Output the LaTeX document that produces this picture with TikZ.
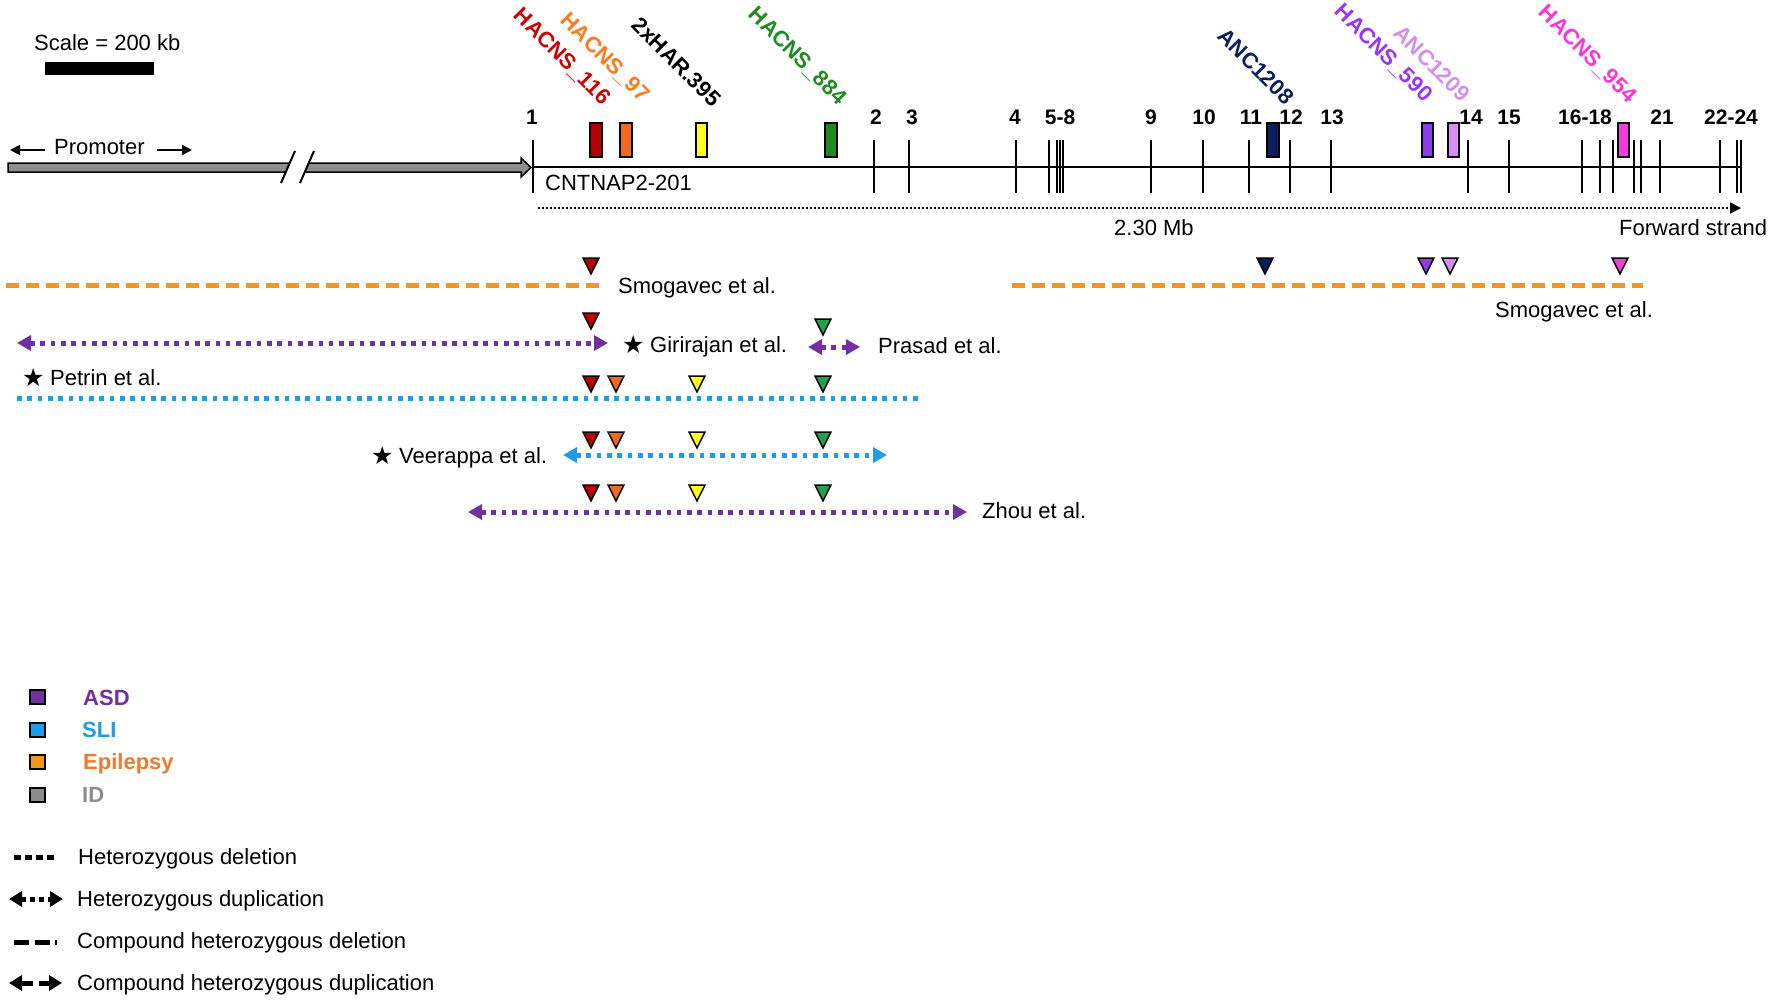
\documentclass[tikz,border=0pt]{standalone}
\usepackage{fontspec}
\setmainfont{Liberation Sans}
\newfontfamily\symfont{DejaVu Sans}
\usetikzlibrary{arrows.meta}

\definecolor{cRedT}{HTML}{D00000}
\definecolor{cRedB}{HTML}{B80000}
\definecolor{cOraT}{HTML}{FF7A1A}
\definecolor{cOraB}{HTML}{F26B1D}
\definecolor{cYel}{HTML}{FFFF1A}
\definecolor{cGrnT}{HTML}{1E8C1E}
\definecolor{cGrnB}{HTML}{1F8A1F}
\definecolor{cGrnTri}{HTML}{22A04A}
\definecolor{cNavy}{HTML}{0B1F5C}
\definecolor{cPurT}{HTML}{9933FF}
\definecolor{cPurB}{HTML}{8B3DE8}
\definecolor{cLavT}{HTML}{D58CF0}
\definecolor{cLavB}{HTML}{D98DF2}
\definecolor{cMagT}{HTML}{FF33DD}
\definecolor{cMagB}{HTML}{F23CDC}
\definecolor{cLineOra}{HTML}{F7941D}
\definecolor{cLinePur}{HTML}{7030A0}
\definecolor{cLineBlu}{HTML}{1E9BE9}
\definecolor{cASD}{HTML}{7030A0}
\definecolor{cSLI}{HTML}{1E9BE9}
\definecolor{cEpi}{HTML}{F07A2C}
\definecolor{cID}{HTML}{8C8C8C}
\definecolor{cBar}{HTML}{8D8D8D}

\newcommand{\tridown}[3]{\filldraw[fill=#3, draw=black, line width=1.5pt, line join=miter] ({#1-8},{#2}) -- ({#1+8},{#2}) -- ({#1},{#2+16}) -- cycle;}
\newcommand{\stargl}{\makebox[28pt][l]{\raisebox{-1pt}{\symfont\fontsize{25}{25}\selectfont ★}}}

\begin{document}
\begin{tikzpicture}[x=1pt,y=-1pt,
  txt/.style={font=\fontsize{22}{26}\selectfont, inner sep=0pt, anchor=base west},
  exn/.style={font=\bfseries\fontsize{21}{24}\selectfont, inner sep=0pt, anchor=base},
  lab/.style={font=\bfseries\fontsize{22}{26}\selectfont, inner sep=0pt, anchor=base east, rotate=-45},
  legtxt/.style={font=\bfseries\fontsize{22}{26}\selectfont, inner sep=0pt, anchor=base west},
  exline/.style={line width=2pt},
  hbox/.style={draw=black, line width=1.5pt},
  cdel/.style={line width=5pt, dash pattern=on 13pt off 7pt},
  hdel/.style={line width=5pt, dash pattern=on 4.6pt off 5.7pt},
  dup/.style={{Triangle[length=14pt,width=15pt]}-{Triangle[length=14pt,width=15pt]}},
]
\useasboundingbox (0,0) rectangle (1772,1002);
\fill[white] (0,0) rectangle (1772,1002);

% scale
\node[txt] (scale) at (34,50) {Scale = 200 kb};
\fill (45,62) rectangle (154,75);

% promoter bar
\filldraw[fill=cBar, draw=black, line width=1.5pt, line join=miter] (8,163) -- (521,163) -- (521,158) -- (531,167.5) -- (521,177) -- (521,172) -- (8,172) -- cycle;
\fill[white] (291.9,157) -- (310.9,157) -- (302.6,178) -- (283.6,178) -- cycle;
\draw[line width=2pt] (281,183) -- (295,151);
\draw[line width=2pt] (300,183) -- (314,151);
\node[txt] (prom) at (54,154) {Promoter};
\coordinate (pl1) at (45,150);
\coordinate (pl2) at (10,150);
\coordinate (pr1) at (157,150);
\coordinate (pr2) at (192,150);
\draw[line width=2pt, -{Triangle[length=10pt,width=10pt]}] (pl1) -- (pl2);
\draw[line width=2pt, -{Triangle[length=10pt,width=10pt]}] (pr1) -- (pr2);

% gene line
\draw[line width=2pt] (533,167) -- (1742,167);
\foreach \x in {533,874,909,1016,1049,1057,1060,1063,1151,1203,1249,1290,1331,1468,1509,1582,1600,1613,1634,1641,1660,1720,1737,1741}
  \draw[exline] (\x,140) -- (\x,193);
\foreach \x/\t/\n in {532/1/a,876/2/b,912/3/c,1015/4/d,1060/5-8/e,1151/9/f,1204/10/g,1251/11/h,1291/12/i,1332/13/j,1471/14/k,1509/15/l,1585/16-18/m,1662/21/n,1731/22-24/o}
  \node[exn] (ex\n) at (\x,124) {\t};
\node[txt] (gene) at (545,190) {CNTNAP2-201};

% HAR boxes
\filldraw[hbox, fill=cRedB] (590,123) rectangle (602,157);
\filldraw[hbox, fill=cOraB] (620,123) rectangle (632,157);
\filldraw[hbox, fill=cYel] (696,123) rectangle (707,157);
\filldraw[hbox, fill=cGrnB] (825,123) rectangle (837,157);
\filldraw[hbox, fill=cNavy] (1267,123) rectangle (1279,157);
\filldraw[hbox, fill=cPurB] (1422,123) rectangle (1433,157);
\filldraw[hbox, fill=cLavB] (1448,123) rectangle (1459,157);
\filldraw[hbox, fill=cMagB] (1618,123) rectangle (1629,157);

% HAR labels
\node[lab, text=cRedT] (l116) at (602,106) {HACNS\_116};
\node[lab, text=cOraT] (l97) at (641,103) {HACNS\_97};
\node[lab, text=black] (l395) at (712,108) {2xHAR.395};
\node[lab, text=cGrnT] (l884) at (838,106) {HACNS\_884};
\node[lab, text=cNavy] (l1208) at (1285,106) {ANC1208};
\node[lab, text=cPurT] (l590) at (1424,103) {HACNS\_590};
\node[lab, text=cLavT] (l1209) at (1461,103) {ANC1209};
\node[lab, text=cMagT] (l954) at (1628,104) {HACNS\_954};

% forward strand
\coordinate (fs1) at (538,208);
\coordinate (fs2) at (1741,208);
\draw[line width=1.8pt, dash pattern=on 2pt off 2pt, -{Triangle[length=11pt,width=11pt]}] (fs1) -- (fs2);
\node[txt] (mb) at (1114,235) {2.30 Mb};
\node[txt] (fwd) at (1619,235) {Forward strand};

% Smogavec 1
\draw[cdel, cLineOra] (6,285) -- (600,285);
\tridown{591}{258}{cRedB}
\node[txt] (smo1) at (618,293) {Smogavec et al.};

% Smogavec 2
\draw[cdel, cLineOra] (1012,285) -- (1643,285);
\tridown{1265}{258}{cNavy}
\tridown{1426}{258}{cPurB}
\tridown{1450}{258}{cLavB}
\tridown{1620}{258}{cMagB}
\node[txt] (smo2) at (1495,317) {Smogavec et al.};

% Girirajan
\draw[hdel, cLinePur, dup] (17,343) -- (608,343);
\tridown{591}{313}{cRedB}
\node[txt] (gir) at (622,352) {\stargl Girirajan et al.};

% Prasad
\draw[hdel, cLinePur, dup] (808,347) -- (860,347);
\tridown{823}{319}{cGrnTri}
\node[txt] (pra) at (878,353) {Prasad et al.};

% Petrin
\node[txt] (pet) at (22,385) {\stargl Petrin et al.};
\draw[hdel, cLineBlu] (17,398) -- (921,398);
\tridown{591}{376}{cRedB}
\tridown{616}{376}{cOraB}
\tridown{697}{376}{cYel}
\tridown{823}{376}{cGrnTri}

% Veerappa
\node[txt] (vee) at (371,463) {\stargl Veerappa et al.};
\draw[hdel, cLineBlu, dup] (563,455) -- (887,455);
\tridown{591}{432}{cRedB}
\tridown{616}{432}{cOraB}
\tridown{697}{432}{cYel}
\tridown{823}{432}{cGrnTri}

% Zhou
\draw[hdel, cLinePur, dup] (468,512) -- (967,512);
\tridown{591}{485}{cRedB}
\tridown{616}{485}{cOraB}
\tridown{697}{485}{cYel}
\tridown{823}{485}{cGrnTri}
\node[txt] (zhou) at (982,518) {Zhou et al.};

% legend colours
\filldraw[fill=cASD, draw=black, line width=1.5pt] (30,690) rectangle (45,704);
\filldraw[fill=cSLI, draw=black, line width=1.5pt] (30,723) rectangle (45,737);
\filldraw[fill=cLineOra, draw=black, line width=1.5pt] (30,755) rectangle (45,769);
\filldraw[fill=cID, draw=black, line width=1.5pt] (30,788) rectangle (45,802);
\node[legtxt, text=cASD] (asd) at (83,705) {ASD};
\node[legtxt, text=cSLI] (sli) at (82,737) {SLI};
\node[legtxt, text=cEpi] (epi) at (83,769) {Epilepsy};
\node[legtxt, text=cID] (idt) at (82,802) {ID};

% legend lines
\draw[line width=5pt, dash pattern=on 6.5pt off 4.5pt] (14,857) -- (57,857);
\node[txt] (lg1) at (78,864) {Heterozygous deletion};
\draw[line width=5pt, dash pattern=on 4.5pt off 4.5pt, {Triangle[length=13pt,width=15pt]}-{Triangle[length=13pt,width=15pt]}] (9,899) -- (63,899);
\node[txt] (lg2) at (77,906) {Heterozygous duplication};
\draw[line width=5pt, dash pattern=on 15pt off 5.5pt] (14,942) -- (57,942);
\node[txt] (lg3) at (77,948) {Compound heterozygous deletion};
\draw[line width=5pt, dash pattern=on 11.5pt off 6pt, {Triangle[length=13pt,width=15pt]}-{Triangle[length=13pt,width=15pt]}] (9,983) -- (62,983);
\node[txt] (lg4) at (77,990) {Compound heterozygous duplication};
\end{tikzpicture}
\end{document}
